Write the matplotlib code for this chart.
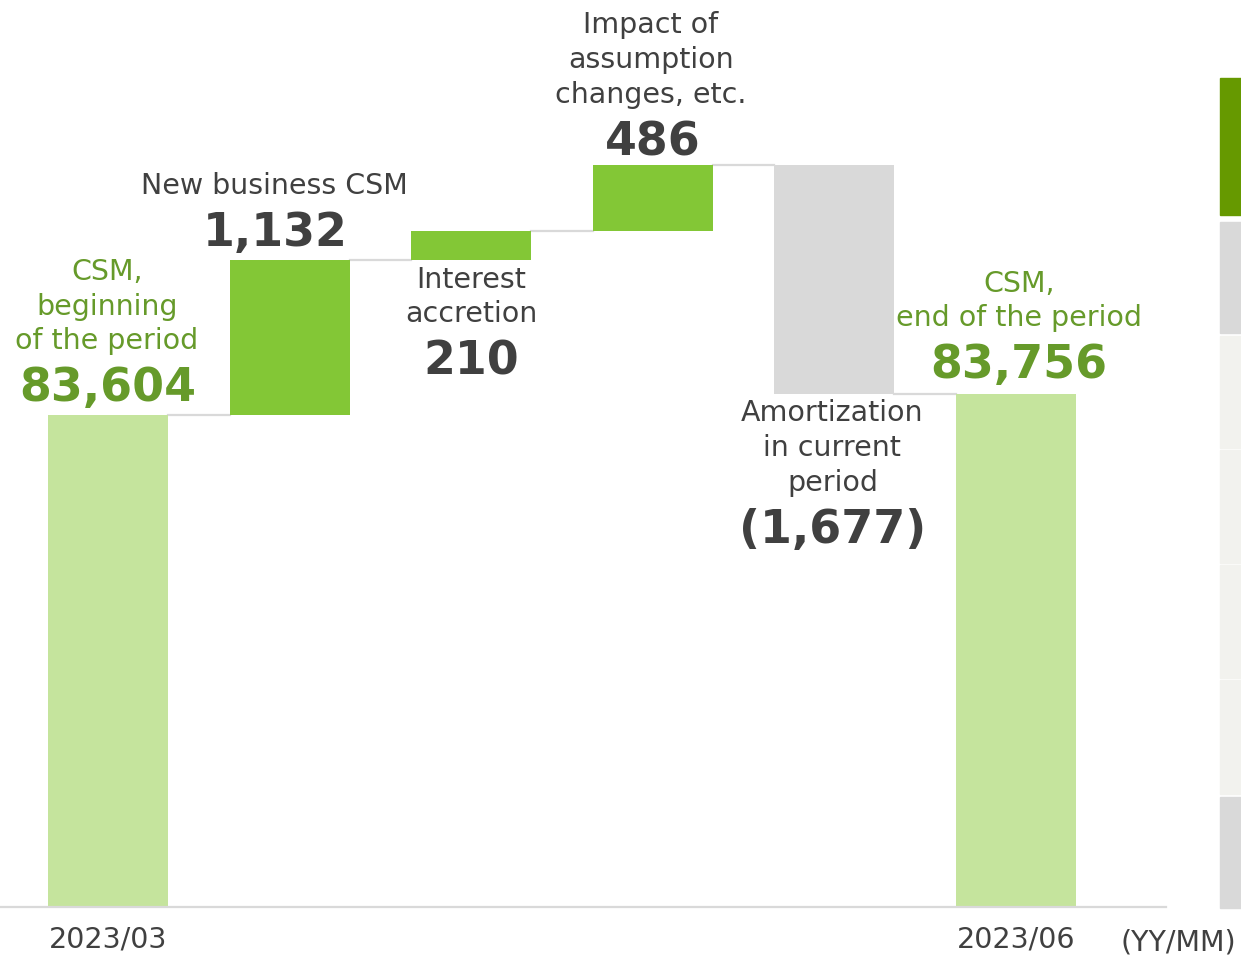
import matplotlib.pyplot as plt
from matplotlib.patches import Rectangle

# CSM waterfall (units as shown)
steps = ["CSM,\nbeginning\nof the period", "New business CSM", "Interest\naccretion",
         "Impact of\nassumption\nchanges, etc.", "Amortization\nin current\nperiod",
         "CSM,\nend of the period"]
values = [83604, 1132, 210, 486, -1677, 83756]
value_labels = ["83,604", "1,132", "210", "486", "(1,677)", "83,756"]
periods = ["2023/03", "2023/06"]

GREEN_TXT = "#669a2a"
DARK_TXT = "#404040"
C_TOTAL = "#c5e49d"
C_UP = "#83c736"
C_DOWN = "#d9d9d9"

W, H = 1241, 958
fig = plt.figure(figsize=(W / 100, H / 100), dpi=100)
ax = fig.add_axes([0, 51 / H, 1166 / W, 907 / H])

base = 80000
scale = 7.32  # units per pixel
ax.set_ylim(base, base + 907 * scale)
ax.set_xlim(-108 / 181.6, (1166 - 108) / 181.6)

# compute bar bottoms/tops
bottoms, heights, colors = [], [], []
running = values[0]
for i, v in enumerate(values):
    if i == 0 or i == len(values) - 1:
        bottoms.append(base)
        heights.append(v - base)
        colors.append(C_TOTAL)
    else:
        lo = running + min(v, 0)
        bottoms.append(lo)
        heights.append(abs(v))
        colors.append(C_UP if v > 0 else C_DOWN)
        running += v

xs = list(range(len(values)))
ax.bar(xs, heights, bottom=bottoms, width=0.66, color=colors, zorder=2)

# connector lines
level = values[0]
for i in range(len(values) - 1):
    if i > 0:
        level += values[i]
    ax.plot([i + 0.33, i + 1 - 0.33], [level, level], color="#d9d9d9", lw=1.6, zorder=1)

for s in ["top", "right", "left"]:
    ax.spines[s].set_visible(False)
ax.spines["bottom"].set_color("#d9d9d9")
ax.spines["bottom"].set_linewidth(1.6)
ax.set_xticks([])
ax.set_yticks([])

px = 0.72  # points per pixel
lab_fs = 20.5
val_fs = 33


def note(i, y, dy_px, txt, color, bold=False, dx_px=0):
    ax.annotate(txt, xy=(i, y), xytext=(dx_px * px, dy_px * px), textcoords="offset points",
                ha="center", va="center", color=color, fontsize=val_fs if bold else lab_fs,
                fontweight="bold" if bold else "normal", linespacing=1.3)


tops = [b + h for b, h in zip(bottoms, heights)]
note(0, tops[0], 26, value_labels[0], GREEN_TXT, True)
note(0, tops[0], 108, steps[0], GREEN_TXT, dx_px=-1)
note(1, tops[1], 27, value_labels[1], DARK_TXT, True, dx_px=-14)
note(1, tops[1], 74, steps[1], DARK_TXT, dx_px=-15)
note(2, bottoms[2], -37, steps[2], DARK_TXT)
note(2, bottoms[2], -102, value_labels[2], DARK_TXT, True)
note(3, tops[3], 22, value_labels[3], DARK_TXT, True)
note(3, tops[3], 105, steps[3], DARK_TXT, dx_px=-2)
note(4, bottoms[4], -54, steps[4], DARK_TXT, dx_px=-2)
note(4, bottoms[4], -136, value_labels[4], DARK_TXT, True, dx_px=-2)
note(5, tops[5], 28, value_labels[5], GREEN_TXT, True, dx_px=3)
note(5, tops[5], 93, steps[5], GREEN_TXT, dx_px=3)

# period labels under the total bars
for i, p in zip([0, 5], periods):
    ax.annotate(p, xy=(i, base), xytext=(0, -33 * px), textcoords="offset points",
                ha="center", va="center", color=DARK_TXT, fontsize=lab_fs,
                annotation_clip=False)
fig.text(1236 / W, 1 - 942 / H, "(YY/MM)", ha="right", va="center", color=DARK_TXT,
         fontsize=lab_fs)

# cut-off strip at the right edge
strip = [(78, 215, "#669900"), (222, 333, "#d9d9d9"), (336, 448, "#f2f2ee"),
         (450, 563, "#f2f2ee"), (565, 678, "#f2f2ee"), (680, 794, "#f2f2ee"),
         (797, 908, "#d9d9d9")]
for y0, y1, c in strip:
    fig.patches.append(Rectangle((1220 / W, 1 - y1 / H), 21 / W, (y1 - y0) / H,
                                 transform=fig.transFigure, color=c, zorder=0))

fig.savefig("out.png", dpi=100)
